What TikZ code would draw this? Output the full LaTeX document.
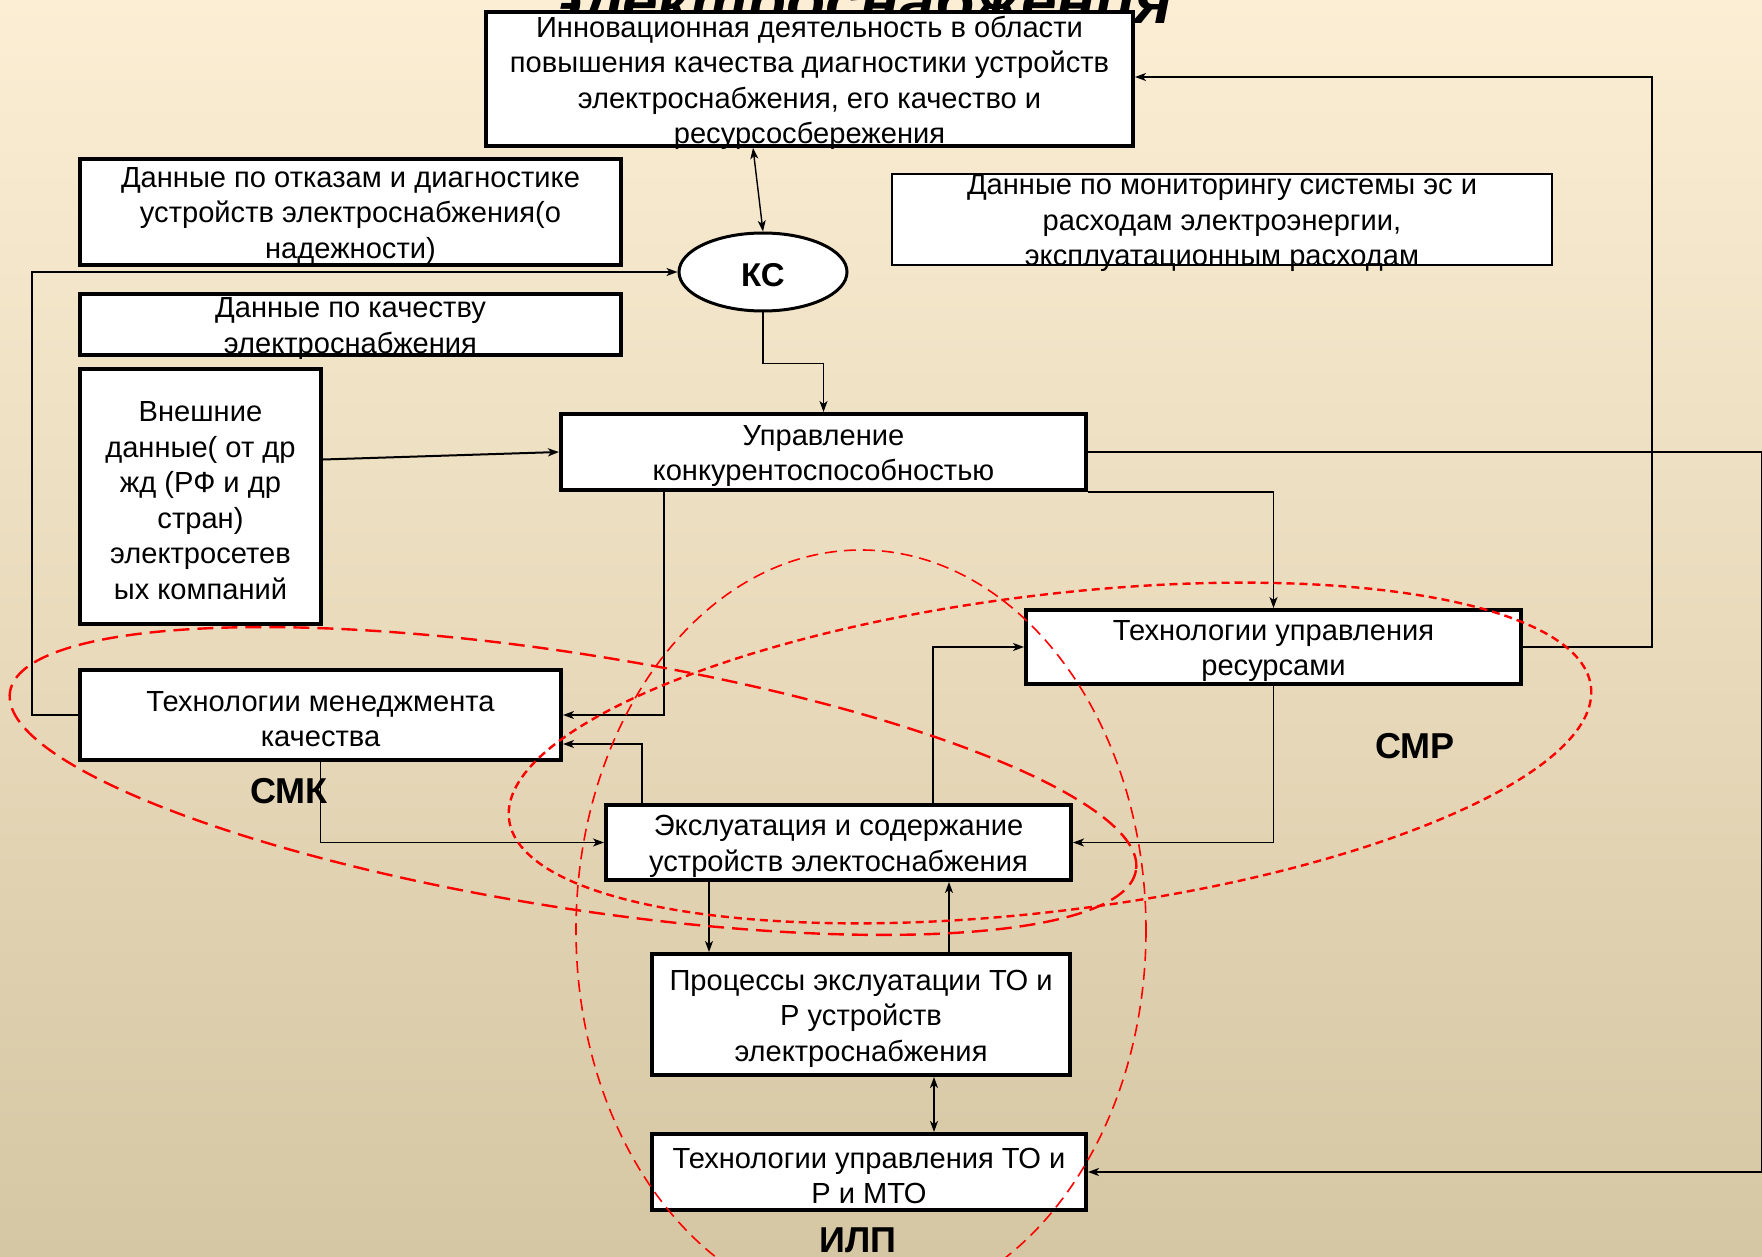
\documentclass[tikz,border=0pt]{standalone}
\usepackage{fontspec}
\setmainfont{Liberation Sans}
\usetikzlibrary{arrows.meta,shapes.geometric,calc}
\definecolor{bgtop}{RGB}{252,238,212}
\definecolor{bgmid}{RGB}{241,233,210}
\definecolor{bgbot}{RGB}{213,199,163}
\begin{document}
\begin{tikzpicture}[x=0.5pt,y=-0.5pt,
  >={Stealth[length=5.5pt,width=4pt,inset=1.5pt]},
  box/.style={draw=black, line width=2pt, fill=white, inner sep=0pt},
  thinbox/.style={draw=black, line width=0.8pt, fill=white, inner sep=0pt},
  txt/.style={align=center, inner sep=0pt, font=\fontsize{14.55}{17.75}\selectfont},
  lbl/.style={inner sep=0pt, font=\fontsize{18}{20}\selectfont\bfseries},
  conn/.style={draw=black, line width=0.7pt, ->},
  dconn/.style={draw=black, line width=0.7pt, <->},
  smk/.style={draw=red, line width=1.2pt, dash pattern=on 8pt off 4pt},
  smr/.style={draw=red, line width=1.2pt, dash pattern=on 4pt off 2.5pt},
  ilp/.style={draw=red, line width=0.8pt, dash pattern=on 6pt off 3.5pt}]
\useasboundingbox (0,0) rectangle (1762,1257);
\clip (0,0) rectangle (1762,1257);
\shade[top color=bgtop, middle color=bgmid, bottom color=bgbot] (0,0) rectangle (1762,1257);

% partially hidden title
\node[anchor=base, inner sep=0pt, font=\fontsize{32}{36}\selectfont\bfseries\itshape] (title) at (860,24) {электроснабжения};

% boxes
\node[box, minimum width=323.5pt, minimum height=67pt] (innov) at (809.5,79) {};
\node[txt] (innovt) at ($(innov.center)+(0,4)$) {Инновационная деятельность в области\\повышения качества диагностики устройств\\электроснабжения, его качество и\\ресурсосбережения};

\node[box, minimum width=270.5pt, minimum height=53pt] (otkaz) at (350.5,212) {};
\node[txt] (otkazt) at ($(otkaz.center)+(0,4)$) {Данные по отказам и диагностике\\устройств электроснабжения(о\\надежности)};

\node[box, minimum width=270.5pt, minimum height=30.5pt] (kach) at (350.5,324.5) {};
\node[txt] (kacht) at ($(kach.center)+(0,4)$) {Данные по качеству\\электроснабжения};

\node[thinbox, minimum width=330pt, minimum height=45.5pt] (monit) at (1222,219.5) {};
\node[txt] (monitt) at ($(monit.center)+(0,4)$) {Данные по мониторингу системы эс и\\расходам электроэнергии,\\эксплуатационным расходам};

\node[box, minimum width=120.5pt, minimum height=127.5pt] (vnesh) at (200.5,496.5) {};
\node[txt] (vnesht) at ($(vnesh.center)+(0,4)$) {Внешние\\данные( от др\\жд (РФ и др\\стран)\\электросетев\\ых компаний};

\node[box, ellipse, minimum width=84pt, minimum height=39pt, line width=1.5pt] (ks) at (763,272) {};
\node[inner sep=0pt, font=\fontsize{16.5}{18}\selectfont\bfseries] (kst) at ($(ks.center)+(0,3)$) {КС};

\node[box, minimum width=262.5pt, minimum height=38pt] (upr) at (823.5,452) {};
\node[txt] (uprt) at ($(upr.center)+(0,4)$) {Управление\\конкурентоспособностью};

\node[box, minimum width=247.5pt, minimum height=37pt] (res) at (1273.5,647) {};
\node[txt] (rest) at ($(res.center)+(0,4)$) {Технологии управления\\ресурсами};

\node[box, minimum width=240.5pt, minimum height=45pt] (men) at (320.5,715) {};
\node[txt] (ment) at ($(men.center)+(0,4)$) {Технологии менеджмента\\качества};

\node[box, minimum width=232.5pt, minimum height=37.5pt] (exsl) at (838.5,842.5) {};
\node[txt] (exslt) at ($(exsl.center)+(0,4)$) {Экслуатация и содержание\\устройств электоснабжения};

\node[box, minimum width=209pt, minimum height=60.5pt] (proc) at (861,1014.5) {};
\node[txt] (proct) at ($(proc.center)+(0,4)$) {Процессы экслуатации ТО и\\Р устройств\\электроснабжения};

\node[box, minimum width=217pt, minimum height=38pt] (to) at (869,1172) {};
\node[txt] (tot) at ($(to.center)+(0,4)$) {Технологии управления ТО и\\Р и МТО};

% connectors
\draw[dconn] ($(innov.south west)+(269,0)$) -- (ks.north);
\draw[conn] (ks.south) -- ++(0,51) -| (upr.north);
\draw[conn] (men.west) -- ++(-46,0) |- (ks.west);
\draw[conn, line width=1pt] ($(vnesh.east)+(0,-37)$) -- (upr.west);
\draw[conn] (upr.east) -- ++(674,0) |- (to.east);
\draw[conn] (upr.south east) -| (res.north);
\draw[conn] ($(upr.south west)+(105,0)$) |- (men.east);
\draw[conn] (res.east) -- ++(129,0) |- ($(innov.east)+(0,-2)$);
\draw[conn] ($(exsl.north west)+(38,0)$) |- ($(men.east)+(0,29)$);
\draw[conn] (men.south) |- (exsl.west);
\draw[conn] ($(exsl.north west)+(329,0)$) |- (res.west);
\draw[conn] (res.south) |- (exsl.east);
\draw[conn] ($(exsl.south west)+(105,0)$) -- ($(proc.north west)+(59,0)$);
\draw[conn] ($(proc.north west)+(299,0)$) -- ($(exsl.south west)+(345,0)$);
\draw[dconn] ($(proc.south west)+(284,0)$) -- ($(to.north west)+(284,0)$);

% red dashed groupings
\draw[smk, rotate around={-9:(573,781)}] (573,781) ellipse [x radius=570, y radius=127];
\draw[smr, rotate around={7:(1050,753)}] (1050,753) ellipse [x radius=545, y radius=158];
\draw[ilp] (861,930) ellipse [x radius=285, y radius=380];

% group labels
\node[lbl] (smkl) at (289,791) {СМК};
\node[lbl] (smrl) at (1415,746) {СМР};
\node[lbl] (ilpl) at (858,1240) {ИЛП};
\end{tikzpicture}
\end{document}
